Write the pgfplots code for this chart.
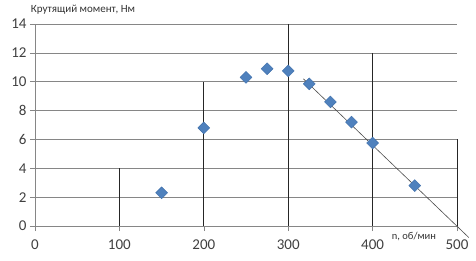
\documentclass[border=0pt]{standalone}
\usepackage{fontspec}
\setmainfont{Carlito}
\usepackage{pgfplots}
\pgfplotsset{compat=1.18}
\definecolor{ser}{HTML}{4F81BD}
\definecolor{serb}{HTML}{3F6FAA}
\definecolor{grd}{HTML}{868686}
\begin{document}
\begin{tikzpicture}
\begin{axis}[
  scale only axis, width=422pt, height=202pt,
  xmin=0, xmax=500, ymin=0, ymax=14,
  xtick={0,100,...,500}, ytick={0,2,...,14},
  axis x line*=bottom, axis y line*=left,
  ymajorgrids, grid style={grd, line width=0.6pt},
  tick style={grd, line width=0.6pt}, major tick length=5pt, tick align=outside,
  axis line style={grd, line width=0.6pt},
  /pgf/number format/assume math mode=true,
  tick label style={font=\fontsize{15}{17}\selectfont, text=black!75},
  xticklabel style={yshift=-5pt},
  clip=false,
  xlabel={n, об/мин},
  xlabel style={at={(axis cs:449,-0.76)}, anchor=center, font=\fontsize{10.5}{12}\selectfont, text=black!80},
  ylabel={Крутящий момент, Нм},
  ylabel style={at={(rel axis cs:0,1)}, rotate=-90, anchor=center, xshift=48pt, yshift=14.5pt, font=\fontsize{11}{13}\selectfont, text=black!80},
]
\addplot[black!85, line width=0.7pt] coordinates {(100,0) (100,4)};
\addplot[black!85, line width=0.7pt] coordinates {(200,0) (200,10)};
\addplot[black!85, line width=0.7pt] coordinates {(300,0) (300,14)};
\addplot[black!85, line width=0.7pt] coordinates {(400,0) (400,12)};
\addplot[black!85, line width=0.7pt] coordinates {(500,0) (500,6)};
\addplot[only marks, mark=square*, mark size=4.2pt, mark options={rotate=45, fill=ser, draw=serb, line width=0.4pt}]
  coordinates {(150,2.3) (200,6.8) (250,10.3) (275,10.9) (300,10.75) (325,9.85) (350,8.6) (375,7.2) (400,5.75) (450,2.8)};
\addplot[black!70, line width=0.6pt] coordinates {(318,10.2) (514,-0.8)};
\end{axis}
\path ([shift={(-35pt,-34pt)}]current axis.south west) rectangle ([shift={(19pt,24pt)}]current axis.north east);
\end{tikzpicture}
\end{document}
